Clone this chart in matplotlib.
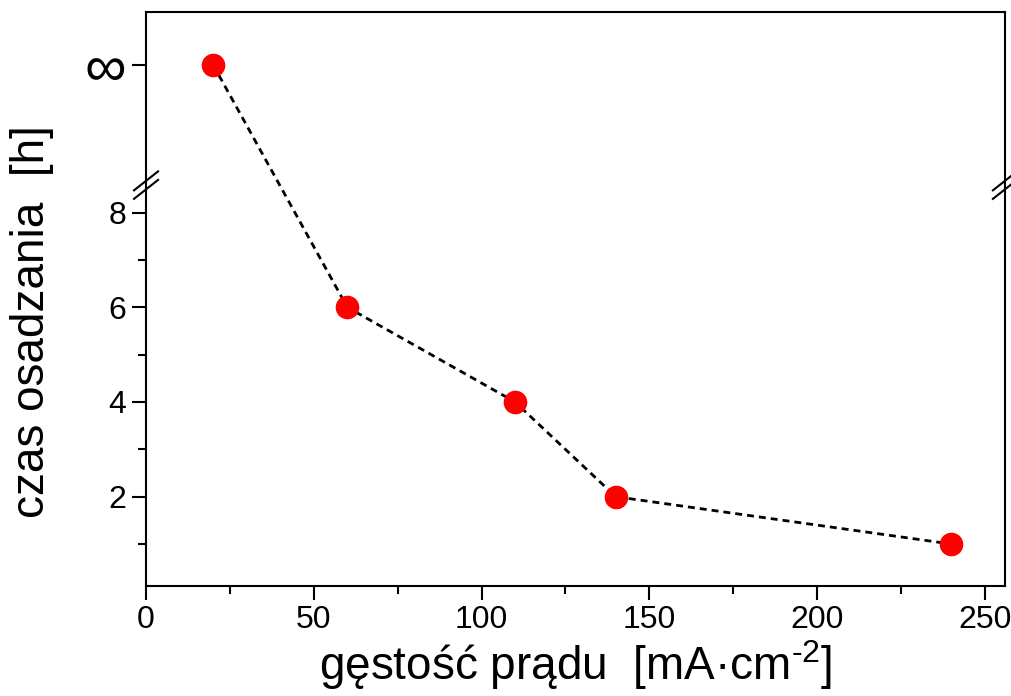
import matplotlib
matplotlib.use("Agg")
import matplotlib.pyplot as plt
import matplotlib.transforms as mtransforms
from matplotlib.ticker import MultipleLocator

plt.rcParams["font.family"] = ["Liberation Sans", "DejaVu Sans"]
plt.rcParams["mathtext.fontset"] = "custom"
plt.rcParams["mathtext.rm"] = "Liberation Sans"
plt.rcParams["mathtext.it"] = "Liberation Sans"

# data (the first point is "infinite" time, drawn at a placeholder level above the break)
current_density = [20, 60, 110, 140, 240]
INF_POS = 11.12      # where the infinity level sits on the y axis
BREAK_POS = 8.58     # where the axis break marks are drawn
deposition_time = [INF_POS, 6, 4, 2, 1]

y_ticks = [2, 4, 6, 8, INF_POS]
y_ticklabels = ["2", "4", "6", "8", "\u221e"]
y_minor = [1, 3, 5, 7]

fig = plt.figure(figsize=(10.12, 6.96), dpi=100)
ax = fig.add_axes([0.1443, 0.158, 0.8487, 0.825])

ax.plot(current_density, deposition_time, color="black", linestyle=(0, (2.5, 1.8)),
        linewidth=2, zorder=2)
ax.plot(current_density, deposition_time, linestyle="none", marker="o",
        markersize=16, color="red", markeredgecolor="red", zorder=3)

ax.set_xlim(0, 256)
ax.set_ylim(0.113, 12.24)
ax.xaxis.set_major_locator(MultipleLocator(50))
ax.xaxis.set_minor_locator(MultipleLocator(25))
ax.set_yticks(y_ticks)
ax.set_yticklabels(y_ticklabels)
ax.set_yticks(y_minor, minor=True)

ax.tick_params(which="both", direction="out", width=1.5, labelsize=23, pad=4)
ax.tick_params(which="major", length=10)
ax.tick_params(which="minor", length=6)
ax.get_yticklabels()[-1].set_fontsize(42)
for s in ax.spines.values():
    s.set_linewidth(1.5)

# axis break marks on both vertical spines
trans = mtransforms.blended_transform_factory(ax.transAxes, ax.transData)
for xs in (0.0, 1.0):
    for dy in (-0.09, 0.09):
        ax.plot([xs - 0.014, xs + 0.014], [BREAK_POS + dy - 0.2, BREAK_POS + dy + 0.2],
                transform=trans, color="black", linewidth=1.5, clip_on=False, zorder=5)

ax.set_xlabel("gęstość prądu  [mA·cm$^{\\text{-2}}$]", fontsize=33, labelpad=2)
ax.set_ylabel("czas osadzania  [h]", fontsize=33)
ax.yaxis.set_label_coords(-0.107, 0.46)

fig.savefig("out.png", dpi=100)
